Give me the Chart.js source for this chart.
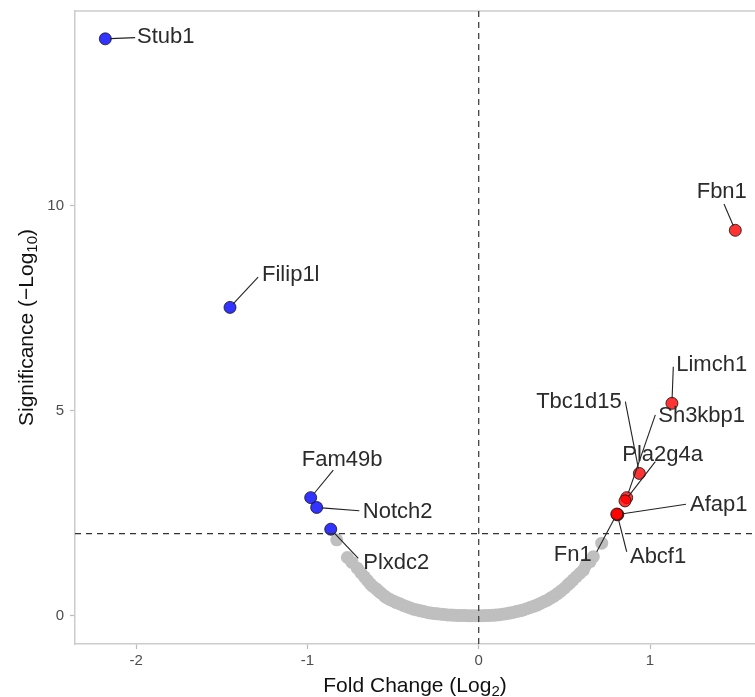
<!DOCTYPE html>
<html>
<head>
<meta charset="utf-8">
<script src="https://cdn.jsdelivr.net/npm/chart.js@4/dist/chart.umd.min.js"></script>
<style>
  html, body { margin: 0; padding: 0; background: #fff; }
  #wrap { width: 755px; height: 697px; position: relative; }
</style>
</head>
<body>
<div id="wrap"><canvas id="volcano"></canvas></div>
<script>
// non-significant genes (log2 fold change, -log10 p)
var grayFC = [-0.829, -0.767, -0.740, -0.709, -0.688, -0.668, -0.650, -0.634, -0.620, -0.600,
  -0.585, -0.570, -0.550, -0.537, -0.520, -0.500, -0.480, -0.460, -0.440, -0.420,
  -0.400, -0.380, -0.360, -0.340, -0.320, -0.300, -0.280, -0.260, -0.240, -0.220,
  -0.200, -0.180, -0.160, -0.140, -0.120, -0.100, -0.080, -0.060, -0.040, -0.020,
  0.000, 0.020, 0.040, 0.060, 0.080, 0.100, 0.120, 0.140, 0.160, 0.180,
  0.200, 0.220, 0.240, 0.260, 0.280, 0.300, 0.320, 0.340, 0.360, 0.380,
  0.400, 0.420, 0.440, 0.460, 0.480, 0.500, 0.520, 0.533, 0.550, 0.570,
  0.590, 0.611, 0.626, 0.650, 0.669, 0.718];
var grayP = [1.85, 1.42, 1.30, 1.16, 1.05, 0.95, 0.86, 0.78, 0.72, 0.66,
  0.60, 0.55, 0.48, 0.44, 0.40, 0.36, 0.32, 0.29, 0.25, 0.22,
  0.19, 0.16, 0.14, 0.12, 0.10, 0.08, 0.065, 0.055, 0.045, 0.035,
  0.03, 0.02, 0.015, 0.01, 0.008, 0.005, 0.003, 0.002, 0.001, 0.0,
  0.0, 0.001, 0.003, 0.006, 0.01, 0.015, 0.025, 0.035, 0.05, 0.065,
  0.08, 0.10, 0.12, 0.14, 0.17, 0.20, 0.23, 0.26, 0.30, 0.34,
  0.38, 0.43, 0.48, 0.54, 0.60, 0.67, 0.75, 0.80, 0.87, 0.95,
  1.03, 1.11, 1.24, 1.32, 1.44, 1.77];

// up-regulated
var upGenes = ['Fbn1', 'Limch1', 'Tbc1d15', 'Sh3kbp1', 'Pla2g4a', 'Afap1', 'Abcf1', 'Fn1'];
var upFC = [1.498, 1.128, 0.938, 0.864, 0.854, 0.812, 0.809, 0.806];
var upP = [9.40, 5.18, 3.47, 2.88, 2.80, 2.47, 2.46, 2.48];

// down-regulated
var downGenes = ['Stub1', 'Filip1l', 'Fam49b', 'Notch2', 'Plxdc2'];
var downFC = [-2.18, -1.452, -0.981, -0.946, -0.864];
var downP = [14.07, 7.52, 2.88, 2.64, 2.11];

var xTicks = [-2, -1, 0, 1];
var yTicks = [0, 5, 10];
var fcCutoff = 0;
var pCutoff = 2;

// label placement (text anchor + segment start, in data units)
var labelPos = {
  Stub1:   { tx: -1.995, ty: 14.11, align: 'left',   sx: -2.006, sy: 14.10 },
  Filip1l: { tx: -1.265, ty: 8.31,  align: 'left',   sx: -1.288, sy: 8.26 },
  Fam49b:  { tx: -1.033, ty: 3.80,  align: 'left',   sx: -0.849, sy: 3.55 },
  Notch2:  { tx: -0.677, ty: 2.54,  align: 'left',   sx: -0.697, sy: 2.56 },
  Plxdc2:  { tx: -0.674, ty: 1.28,  align: 'left',   sx: -0.703, sy: 1.40 },
  Fbn1:    { tx: 1.419,  ty: 10.34, align: 'center', sx: 1.432,  sy: 10.04 },
  Limch1:  { tx: 1.153,  ty: 6.11,  align: 'left',   sx: 1.136,  sy: 6.07 },
  Tbc1d15: { tx: 0.835,  ty: 5.22,  align: 'right',  sx: 0.856,  sy: 5.22 },
  Sh3kbp1: { tx: 1.048,  ty: 4.88,  align: 'left',   sx: 1.031,  sy: 4.90 },
  Pla2g4a: { tx: 0.838,  ty: 3.92,  align: 'left',   sx: 1.031,  sy: 3.76 },
  Afap1:   { tx: 1.234,  ty: 2.70,  align: 'left',   sx: 1.210,  sy: 2.72 },
  Abcf1:   { tx: 0.883,  ty: 1.44,  align: 'left',   sx: 0.864,  sy: 1.56 },
  Fn1:     { tx: 0.660,  ty: 1.48,  align: 'right',  sx: 0.689,  sy: 1.56 }
};

function toPoints(xs, ys) {
  return xs.map(function (x, i) { return { x: x, y: ys[i] }; });
}

var FONT = '"Liberation Sans", Arial, Helvetica, sans-serif';

var extras = {
  id: 'volcanoExtras',
  afterDatasetsDraw: function (chart) {
    var ctx = chart.ctx;
    var a = chart.chartArea;
    var xs = chart.scales.x, ys = chart.scales.y;

    ctx.save();
    // top frame line
    ctx.strokeStyle = '#cccccc';
    ctx.lineWidth = 1.5;
    ctx.beginPath();
    ctx.moveTo(a.left, a.top);
    ctx.lineTo(a.right, a.top);
    ctx.stroke();

    // cutoff lines
    ctx.strokeStyle = '#333333';
    ctx.lineWidth = 1.2;
    ctx.setLineDash([6, 5]);
    var vx = xs.getPixelForValue(fcCutoff);
    ctx.beginPath();
    ctx.moveTo(vx, a.top);
    ctx.lineTo(vx, a.bottom);
    ctx.stroke();
    var hy = ys.getPixelForValue(pCutoff);
    ctx.beginPath();
    ctx.moveTo(a.left, hy);
    ctx.lineTo(a.right, hy);
    ctx.stroke();
    ctx.setLineDash([]);

    // labels with segments
    var genes = upGenes.concat(downGenes);
    var fcs = upFC.concat(downFC);
    var ps = upP.concat(downP);
    ctx.font = '22px ' + FONT;
    ctx.textBaseline = 'middle';
    genes.forEach(function (g, i) {
      var L = labelPos[g];
      if (!L) return;
      var px = xs.getPixelForValue(fcs[i]), py = ys.getPixelForValue(ps[i]);
      var sx = xs.getPixelForValue(L.sx), sy = ys.getPixelForValue(L.sy);
      var dx = sx - px, dy = sy - py;
      var d = Math.sqrt(dx * dx + dy * dy) || 1;
      var ex = px + dx / d * 5, ey = py + dy / d * 5;
      ctx.strokeStyle = '#222222';
      ctx.lineWidth = 1.1;
      ctx.beginPath();
      ctx.moveTo(sx, sy);
      ctx.lineTo(ex, ey);
      ctx.stroke();
      ctx.fillStyle = '#2b2b2b';
      ctx.textAlign = L.align;
      ctx.fillText(g, xs.getPixelForValue(L.tx), ys.getPixelForValue(L.ty));
    });
    ctx.restore();
  },
  afterDraw: function (chart) {
    var ctx = chart.ctx;
    var a = chart.chartArea;
    ctx.save();
    ctx.fillStyle = '#111111';
    ctx.textBaseline = 'alphabetic';
    ctx.textAlign = 'left';

    function measure(main, sub, tail) {
      ctx.font = '21px ' + FONT;
      var w1 = ctx.measureText(main).width;
      var w3 = ctx.measureText(tail).width;
      ctx.font = '15px ' + FONT;
      var w2 = ctx.measureText(sub).width;
      return { w: w1 + w2 + w3, w1: w1, w2: w2 };
    }
    function drawTitle(main, sub, tail, cx, baseY) {
      var m = measure(main, sub, tail);
      var x0 = cx - m.w / 2;
      ctx.font = '21px ' + FONT;
      ctx.fillText(main, x0, baseY);
      ctx.font = '15px ' + FONT;
      ctx.fillText(sub, x0 + m.w1, baseY + 4);
      ctx.font = '21px ' + FONT;
      ctx.fillText(tail, x0 + m.w1 + m.w2, baseY);
    }

    drawTitle('Fold Change (Log', '2', ')', (a.left + a.right) / 2, 692);

    ctx.translate(33, (a.top + a.bottom) / 2);
    ctx.rotate(-Math.PI / 2);
    drawTitle('Significance (\u2212Log', '10', ')', 0, 0);
    ctx.restore();
  }
};

new Chart(document.getElementById('volcano').getContext('2d'), {
  type: 'scatter',
  data: {
    datasets: [{
      label: 'Up',
      data: toPoints(upFC, upP),
      backgroundColor: 'rgba(255,0,0,0.8)',
      borderColor: '#111111',
      borderWidth: 0.8,
      pointRadius: 6,
      pointHoverRadius: 6,
      order: 1
    }, {
      label: 'Down',
      data: toPoints(downFC, downP),
      backgroundColor: 'rgba(0,0,255,0.8)',
      borderColor: '#111111',
      borderWidth: 0.8,
      pointRadius: 6,
      pointHoverRadius: 6,
      order: 2
    }, {
      label: 'NS',
      data: toPoints(grayFC, grayP),
      backgroundColor: '#bfbfbf',
      borderWidth: 0,
      pointRadius: 6.5,
      pointHoverRadius: 6.5,
      order: 3
    }]
  },
  options: {
    responsive: true,
    maintainAspectRatio: false,
    animation: false,
    events: [],
    layout: { autoPadding: false, padding: { top: 11, right: 0, left: 0, bottom: 0 } },
    plugins: {
      legend: { display: false },
      tooltip: { enabled: false }
    },
    scales: {
      x: {
        type: 'linear',
        min: -2.357,
        max: 1.613,
        afterFit: function (s) {
          s.height = 53;
          s.paddingLeft = 0;
          s.paddingRight = 0;
        },
        afterBuildTicks: function (s) {
          s.ticks = xTicks.map(function (v) { return { value: v }; });
        },
        grid: {
          drawOnChartArea: false,
          drawTicks: true,
          tickLength: 5,
          tickWidth: 1.2,
          color: '#bbbbbb'
        },
        border: { display: true, color: '#cccccc', width: 1.5 },
        ticks: {
          color: '#4d4d4d',
          padding: 3,
          font: { family: FONT, size: 15 }
        }
      },
      y: {
        type: 'linear',
        min: -0.690,
        max: 14.749,
        afterFit: function (s) {
          s.width = 75;
          s.paddingTop = 0;
          s.paddingBottom = 0;
        },
        afterBuildTicks: function (s) {
          s.ticks = yTicks.map(function (v) { return { value: v }; });
        },
        grid: {
          drawOnChartArea: false,
          drawTicks: true,
          tickLength: 5,
          tickWidth: 1.2,
          color: '#bbbbbb'
        },
        border: { display: true, color: '#cccccc', width: 1.5 },
        ticks: {
          color: '#4d4d4d',
          padding: 6,
          font: { family: FONT, size: 15 }
        }
      }
    }
  },
  plugins: [extras]
});
</script>
</body>
</html>
